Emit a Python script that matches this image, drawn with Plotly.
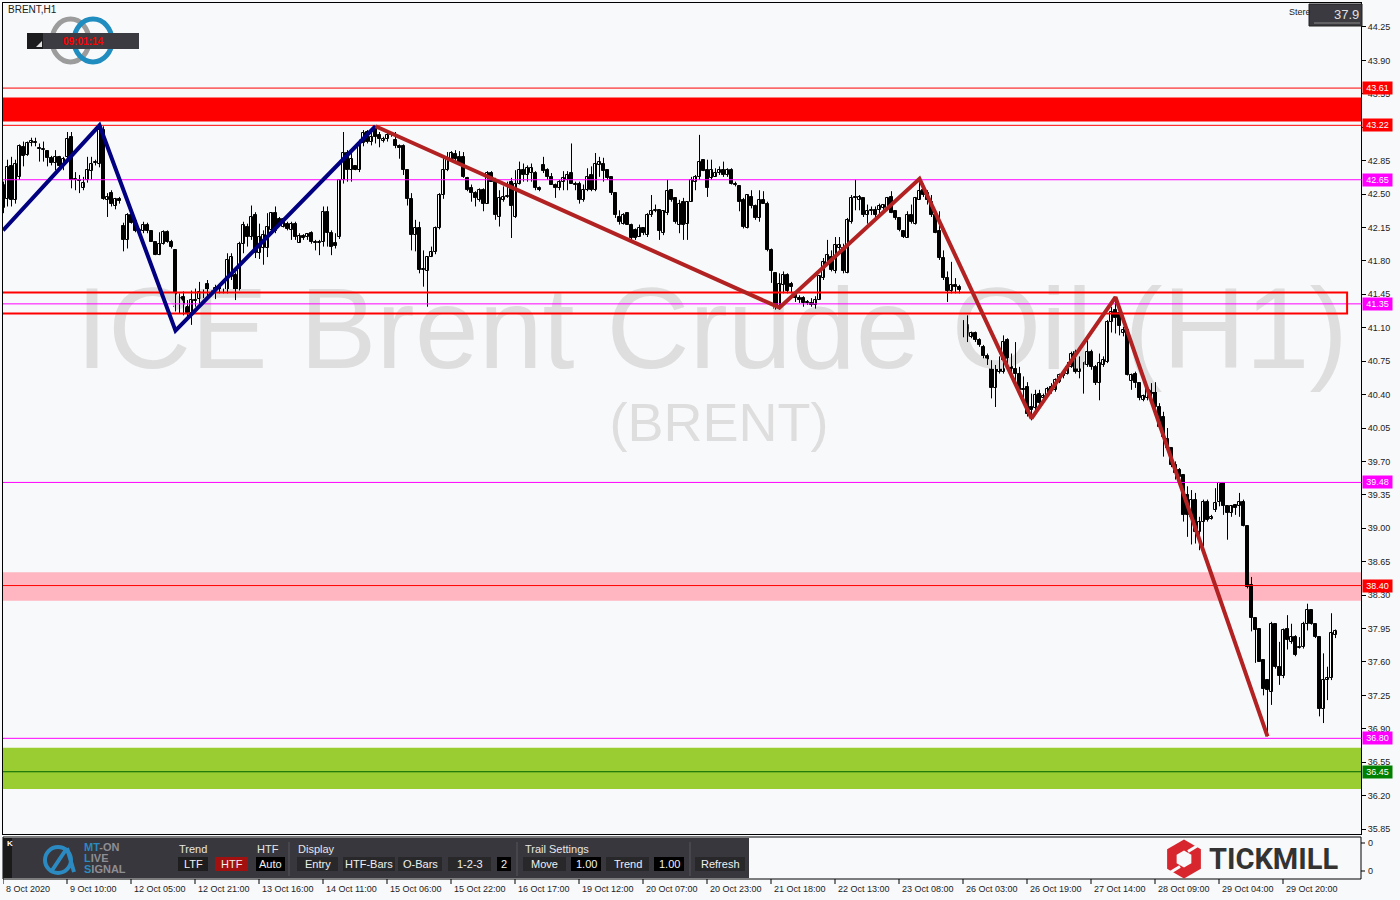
import math
import plotly.graph_objects as go

# ---------------- DATA ----------------
open_ = [42.35,42.45,42.79,42.44,42.68,42.99,42.91,43.04,43.05,42.98,42.96,42.95,42.88,42.83,42.89,42.79,42.89,43.10,42.65,42.65,
         42.56,42.65,42.74,42.83,42.82,43.17,42.44,42.51,42.37,42.45,42.17,42.02,42.28,42.22,42.10,42.11,42.18,42.11,42.00,41.86,
         41.98,42.10,42.00,41.91,41.32,41.42,41.32,41.25,41.39,41.40,41.47,41.56,41.46,41.45,41.48,41.49,41.46,41.63,41.65,41.49,
         41.98,42.16,42.05,42.28,41.88,41.93,41.93,42.12,42.30,42.24,42.16,42.19,42.12,42.19,41.99,42.06,42.05,42.09,42.00,41.99,
         42.00,42.31,42.09,41.99,42.05,42.65,42.93,42.75,42.79,42.75,43.03,43.15,43.05,43.19,43.12,43.06,43.08,43.13,43.07,43.00,
         43.00,42.75,42.45,42.07,42.14,41.70,41.69,41.84,41.89,42.14,42.49,42.75,
         42.86,42.92,42.89,42.89,42.67,42.56,42.51,42.44,42.54,42.40,42.72,42.63,42.26,42.44,42.47,42.63,42.26,42.61,42.75,42.70,
         42.72,42.72,42.56,42.80,42.75,42.68,42.60,42.56,42.63,42.65,42.72,42.61,42.61,42.44,42.54,42.70,42.54,42.80,42.82,42.75,
         42.68,42.51,42.26,42.19,42.30,42.18,42.12,42.05,42.14,42.07,42.28,42.32,42.33,42.09,42.30,42.54,42.46,42.18,42.42,42.19,
         42.42,42.63,42.68,42.86,42.75,42.67,42.68,42.72,42.75,42.70,42.75,42.61,42.58,42.44,42.14,42.47,42.37,42.25,42.44,42.40,
         41.91,41.67,41.32,41.55,41.65,41.56,41.46,41.41,41.41,41.37,41.36,41.34,41.39,41.62,41.77,41.84,41.69,41.93,41.93,41.67,
         42.21,42.47,42.44,42.46,42.28,42.32,42.33,42.33,42.35,42.35,42.47,42.32,42.25,42.11,
         42.04,42.28,42.19,42.44,42.54,42.51,42.42,42.28,42.11,41.83,41.62,41.48,41.55,41.53,41.02,41.13,41.00,41.04,40.97,40.90,
         40.80,40.74,40.47,40.64,40.64,40.97,40.74,40.67,40.62,40.46,40.48,40.27,40.26,40.41,40.36,40.40,40.48,40.45,40.53,40.59,
         40.62,40.69,40.85,40.64,40.74,40.71,40.85,40.69,40.52,40.71,40.74,41.16,41.29,41.25,41.05,41.08,40.54,40.62,40.52,40.34,
         40.36,40.45,40.47,40.27,40.17,39.94,39.84,39.66,39.61,39.56,39.35,39.12,39.30,38.96,39.07,39.28,39.10,39.19,39.28,39.47,
         39.23,39.16,39.24,39.23,39.28,39.02,38.41,38.06,37.95,37.62,37.41,37.29,38.00,37.55,37.45,37.95,37.81,37.86,37.75,37.76,
         38.00,38.14,38.00,37.86,37.11,37.41,37.43,37.88]
high_ = [42.63,42.86,42.89,42.86,43.02,43.05,43.05,43.09,43.09,43.03,43.05,42.96,42.90,42.96,42.90,42.89,43.15,43.15,42.73,42.70,
         42.68,42.89,42.89,42.86,43.21,43.21,42.51,42.54,42.46,42.47,42.20,42.30,42.30,42.24,42.14,42.21,42.20,42.12,42.00,42.10,
         42.12,42.12,42.02,41.92,41.46,41.48,41.39,41.49,41.51,41.58,41.50,41.60,41.49,41.55,41.56,41.51,41.88,41.88,41.68,42.00,
         42.21,42.19,42.38,42.31,42.19,42.12,42.30,42.31,42.37,42.26,42.25,42.21,42.21,42.21,42.09,42.08,42.09,42.11,42.02,42.02,
         42.37,42.37,42.12,42.09,42.65,43.15,42.96,42.96,42.80,43.07,43.17,43.17,43.14,43.21,43.15,43.10,43.14,43.15,43.15,43.02,
         43.02,42.75,42.51,42.23,42.21,41.91,41.85,41.95,42.16,42.51,42.89,42.94,
         42.95,42.96,42.95,42.94,42.68,42.60,42.53,42.56,42.56,42.74,42.74,42.67,42.54,42.58,42.63,42.67,42.75,42.84,42.82,42.80,
         42.82,42.74,42.58,42.89,42.77,42.72,42.61,42.65,42.74,42.74,43.03,42.63,42.63,42.60,42.77,42.79,42.93,42.89,42.88,42.75,
         42.68,42.51,42.33,42.30,42.30,42.19,42.14,42.18,42.14,42.30,42.49,42.39,42.33,42.33,42.65,42.54,42.46,42.44,42.46,42.42,
         42.68,42.70,43.12,42.86,42.86,42.86,42.77,42.79,42.84,42.77,42.77,42.63,42.58,42.46,42.49,42.54,42.39,42.54,42.53,42.42,
         41.93,41.67,41.67,41.69,41.67,41.58,41.48,41.44,41.43,41.39,41.41,41.43,41.65,41.83,42.02,41.91,42.05,42.05,41.98,42.25,
         42.49,42.65,42.49,42.46,42.39,42.37,42.37,42.40,42.39,42.47,42.53,42.33,42.26,42.12,
         42.32,42.39,42.47,42.66,42.61,42.54,42.49,42.30,42.32,41.91,41.69,41.79,41.62,41.55,41.18,41.23,41.06,41.06,40.99,40.92,
         40.83,40.76,40.71,40.80,41.02,40.99,40.83,40.95,40.69,40.59,40.53,40.41,40.45,40.45,40.41,40.48,40.52,40.57,40.62,40.64,
         40.74,40.85,40.87,40.80,40.74,40.97,40.87,40.71,40.83,40.80,41.18,41.32,41.42,41.30,41.11,41.10,40.62,40.64,40.53,40.40,
         40.50,40.52,40.53,40.31,40.22,40.05,39.84,39.70,39.63,39.56,39.44,39.40,39.37,39.12,39.30,39.30,39.14,39.42,39.47,39.47,
         39.24,39.24,39.24,39.37,39.30,39.02,38.49,38.06,37.95,37.62,37.41,38.02,38.00,37.81,37.95,38.09,38.00,37.88,37.86,38.02,
         38.21,38.14,38.00,37.86,37.69,37.55,38.11,37.94]
low_ = [42.30,42.37,42.37,42.40,42.65,42.79,42.90,43.00,43.00,42.84,42.84,42.79,42.80,42.75,42.76,42.75,42.86,42.56,42.54,42.51,
        42.54,42.62,42.65,42.80,42.78,42.44,42.26,42.37,42.34,42.40,41.90,41.93,42.19,42.10,42.07,42.09,42.09,42.00,41.86,41.86,
        41.97,41.99,41.93,41.27,41.25,41.23,41.22,41.13,41.32,41.32,41.41,41.43,41.43,41.40,41.46,41.46,41.46,41.60,41.39,41.49,
        41.88,41.95,42.02,41.83,41.82,41.76,41.84,42.09,42.09,42.17,42.15,42.12,42.02,42.02,41.99,42.02,42.02,41.98,41.91,41.86,
        41.95,41.95,41.86,41.93,42.03,42.61,42.63,42.63,42.75,42.73,43.00,43.03,43.01,43.03,42.99,43.04,43.05,43.10,42.98,42.87,
        42.70,42.38,41.91,41.90,41.67,41.53,41.32,41.84,41.87,42.13,42.45,42.74,
        42.84,42.82,42.80,42.67,42.53,42.42,42.37,42.42,42.32,42.40,42.63,42.23,42.16,42.42,42.46,42.04,42.25,42.60,42.63,42.63,
        42.63,42.54,42.53,42.72,42.65,42.60,42.46,42.54,42.54,42.54,42.61,42.54,42.40,42.42,42.53,42.53,42.53,42.68,42.63,42.65,
        42.49,42.25,42.18,42.18,42.18,42.02,42.02,42.05,42.07,42.05,42.26,42.31,42.02,42.07,42.28,42.42,42.19,42.09,42.02,42.02,
        42.42,42.54,42.65,42.74,42.47,42.65,42.68,42.70,42.68,42.68,42.60,42.58,42.32,42.14,42.14,42.35,42.23,42.21,42.40,41.90,
        41.57,41.29,41.29,41.46,41.46,41.46,41.37,41.36,41.32,41.34,41.32,41.30,41.39,41.60,41.76,41.69,41.67,41.91,41.67,41.67,
        42.19,42.33,42.33,42.26,42.19,42.28,42.23,42.26,42.32,42.33,42.30,42.23,42.11,42.04,
        42.04,42.19,42.18,42.44,42.47,42.39,42.26,42.09,41.81,41.60,41.37,41.46,41.46,41.46,41.00,40.95,40.99,40.95,40.90,40.78,
        40.71,40.36,40.27,40.62,40.62,40.68,40.59,40.53,40.41,40.34,40.17,40.13,40.20,40.29,40.34,40.38,40.41,40.43,40.52,40.57,
        40.61,40.68,40.62,40.57,40.41,40.69,40.66,40.50,40.34,40.69,40.73,41.05,41.04,41.02,41.01,40.60,40.45,40.47,40.34,40.33,
        40.34,40.36,40.26,40.05,39.75,39.82,39.64,39.51,39.51,39.07,38.91,38.83,38.84,38.77,38.81,39.07,39.09,39.17,39.23,39.14,
        38.88,39.12,39.14,39.12,39.02,38.37,37.92,37.59,37.60,37.25,36.82,37.15,37.53,37.36,37.43,37.73,37.79,37.66,37.74,37.74,
        37.93,37.99,37.85,37.03,36.96,37.20,37.41,37.85]
close_ = [42.60,42.78,42.44,42.82,43.00,42.90,43.03,43.06,43.03,42.97,42.97,42.88,42.83,42.89,42.79,42.87,43.08,42.65,42.65,42.64,
          42.62,42.75,42.82,42.84,43.17,42.45,42.47,42.40,42.45,42.43,42.02,42.28,42.20,42.11,42.12,42.18,42.11,42.00,41.86,41.98,
          42.10,42.00,41.95,41.32,41.41,41.32,41.25,41.39,41.38,41.47,41.45,41.46,41.48,41.52,41.53,41.50,41.81,41.84,41.49,41.98,
          42.18,42.05,42.26,41.88,42.05,42.07,42.16,42.30,42.11,42.18,42.24,42.13,42.19,42.05,42.06,42.04,42.08,42.00,41.99,42.00,
          42.31,42.09,41.95,41.96,42.65,42.93,42.75,42.87,42.75,43.03,43.14,43.05,43.10,43.10,43.08,43.08,43.12,43.12,43.00,42.98,
          42.75,42.45,42.07,42.14,41.70,41.72,41.84,41.89,42.14,42.49,42.75,42.86,
          42.93,42.87,42.80,42.68,42.54,42.51,42.46,42.54,42.40,42.72,42.63,42.28,42.46,42.47,42.48,42.37,42.61,42.75,42.70,42.77,
          42.77,42.56,42.54,42.74,42.68,42.60,42.56,42.63,42.67,42.70,42.61,42.60,42.44,42.54,42.68,42.54,42.82,42.84,42.74,42.67,
          42.51,42.28,42.21,42.28,42.18,42.04,42.04,42.14,42.09,42.28,42.32,42.33,42.11,42.32,42.53,42.44,42.21,42.40,42.18,42.42,
          42.65,42.68,42.84,42.74,42.56,42.75,42.72,42.75,42.70,42.75,42.61,42.60,42.42,42.16,42.49,42.37,42.25,42.44,42.40,41.91,
          41.69,41.30,41.56,41.65,41.48,41.53,41.41,41.39,41.36,41.36,41.34,41.39,41.64,41.79,41.86,41.71,41.97,41.97,41.69,42.23,
          42.46,42.46,42.47,42.28,42.32,42.33,42.28,42.37,42.39,42.46,42.30,42.25,42.12,42.05,
          42.28,42.21,42.46,42.53,42.49,42.44,42.28,42.09,41.83,41.62,41.48,41.55,41.53,41.50,41.11,40.99,41.04,40.97,40.92,40.80,
          40.73,40.47,40.69,40.69,40.95,40.74,40.67,40.62,40.45,40.45,40.20,40.24,40.40,40.31,40.39,40.46,40.45,40.55,40.60,40.62,
          40.69,40.83,40.64,40.76,40.71,40.85,40.69,40.52,40.73,40.76,41.16,41.27,41.20,41.12,41.08,40.60,40.60,40.52,40.36,40.38,
          40.47,40.41,40.27,40.06,39.96,39.84,39.66,39.58,39.54,39.14,39.14,39.30,38.96,39.07,39.28,39.09,39.12,39.26,39.47,39.23,
          39.16,39.23,39.21,39.28,39.02,38.39,38.06,37.93,37.60,37.32,37.31,38.00,37.55,37.45,37.93,37.83,37.86,37.67,37.76,38.00,
          38.14,38.00,37.86,37.11,37.41,37.43,37.90,37.92]

time_labels = ["8 Oct 2020", "9 Oct 10:00", "12 Oct 05:00", "12 Oct 21:00", "13 Oct 16:00", "14 Oct 11:00",
               "15 Oct 06:00", "15 Oct 22:00", "16 Oct 17:00", "19 Oct 12:00", "20 Oct 07:00", "20 Oct 23:00",
               "21 Oct 18:00", "22 Oct 13:00", "23 Oct 08:00", "26 Oct 03:00", "26 Oct 19:00", "27 Oct 14:00",
               "28 Oct 09:00", "29 Oct 04:00", "29 Oct 20:00"]
bars_per_label = 16
price_ticks = [35.85, 36.20, 36.55, 36.90, 37.25, 37.60, 37.95, 38.30, 38.65, 39.00, 39.35, 39.70, 40.05,
               40.40, 40.75, 41.10, 41.45, 41.80, 42.15, 42.50, 42.85, 43.20, 43.55, 43.90, 44.25]

red_levels = [43.61, 43.22, 38.40]
magenta_levels = [42.65, 41.35, 39.48, 36.80]
green_levels = [36.45]
zone_red = (43.26, 43.51)
zone_pink = (38.24, 38.54)
zone_green = (36.27, 36.70)
box_prices = (41.25, 41.47)
box_end_bar = 335.9
zz_blue_x = [-0.125, 24, 43, 93]
zz_blue_y = [42.12, 43.22, 41.07, 43.21]
zz_red_x = [93, 194, 229, 257, 278, 316]
zz_red_y = [43.21, 41.31, 42.66, 40.15, 41.42, 36.82]
last_price_text = "37.9"
clock_text = "09:01:14"

# ---------------- LAYOUT GEOMETRY ----------------
W, H = 1400, 900
L, R, T, B = 3, 1361, 3, 834
PXB = 4.0  # pixels per bar
x_range = [-0.125, -0.125 + (R - L) / PXB]
y_range = [35.798, 44.501]
BG = "#F8F9FB"
FONT = "Liberation Sans, Arial, sans-serif"


def PX(x):
    return (x - L) / (R - L)


def PY(y):
    return (B - y) / (B - T)


n = len(open_)
idx = list(range(n))

fig = go.Figure()

# watermark (behind everything)
fig.add_trace(go.Scatter(x=[177.1], y=[40.98], mode="text", text=["ICE Brent Crude Oil (H1)"],
                         textfont=dict(size=115, color="#DEDEDE", family=FONT),
                         textposition="middle center", hoverinfo="skip", showlegend=False))
fig.add_trace(go.Scatter(x=[178.9], y=[40.06], mode="text", text=["(BRENT)"],
                         textfont=dict(size=54, color="#DEDEDE", family=FONT),
                         textposition="middle center", hoverinfo="skip", showlegend=False))

# wicks
wx, wy = [], []
for i in idx:
    wx += [i, i, None]
    wy += [low_[i], high_[i], None]
fig.add_trace(go.Scatter(x=wx, y=wy, mode="lines", line=dict(color="#000000", width=1),
                         hoverinfo="skip", showlegend=False))

# bodies
base = [min(o, c) for o, c in zip(open_, close_)]
hgt = [max(abs(c - o), 0.008) for o, c in zip(open_, close_)]
cols = ["#FFFFFF" if c >= o else "#000000" for o, c in zip(open_, close_)]
fig.add_trace(go.Bar(x=idx, y=hgt, base=base, width=0.6,
                     marker=dict(color=cols, line=dict(color="#000000", width=1)),
                     hoverinfo="skip", showlegend=False))

# horizontal levels
for p in red_levels:
    fig.add_trace(go.Scatter(x=[-5, 345], y=[p, p], mode="lines", line=dict(color="#FF0000", width=1),
                             hoverinfo="skip", showlegend=False))
for p in magenta_levels:
    fig.add_trace(go.Scatter(x=[-5, 345], y=[p, p], mode="lines", line=dict(color="#FF00FF", width=1),
                             hoverinfo="skip", showlegend=False))
for p in green_levels:
    fig.add_trace(go.Scatter(x=[-5, 345], y=[p, p], mode="lines", line=dict(color="#006400", width=1),
                             hoverinfo="skip", showlegend=False))

# rectangle box
lo, hi = box_prices
fig.add_trace(go.Scatter(x=[-5, box_end_bar, box_end_bar, -5], y=[hi, hi, lo, lo], mode="lines",
                         line=dict(color="#FF0000", width=2), hoverinfo="skip", showlegend=False))

# zigzags
fig.add_trace(go.Scatter(x=zz_blue_x, y=zz_blue_y, mode="lines", line=dict(color="#000080", width=4),
                         hoverinfo="skip", showlegend=False))
fig.add_trace(go.Scatter(x=zz_red_x, y=zz_red_y, mode="lines", line=dict(color="#B22222", width=4),
                         hoverinfo="skip", showlegend=False))

shapes = []
annotations = []

# bands (below traces)
for (a, b), col in [(zone_red, "#FF0000"), (zone_pink, "#FFB6C1"), (zone_green, "#9ACD32")]:
    shapes.append(dict(type="rect", xref="paper", yref="y", x0=0, x1=1, y0=a, y1=b,
                       fillcolor=col, line=dict(width=0), layer="below"))


def rect(x0, y0, x1, y1, fill, line=None, lw=0):
    shapes.append(dict(type="rect", xref="paper", yref="paper", x0=PX(x0), x1=PX(x1), y0=PY(y1), y1=PY(y0),
                       fillcolor=fill, line=dict(color=line or fill, width=lw)))


def seg(x0, y0, x1, y1, color, lw=1):
    shapes.append(dict(type="line", xref="paper", yref="paper", x0=PX(x0), x1=PX(x1), y0=PY(y0), y1=PY(y1),
                       line=dict(color=color, width=lw)))


def text(x, y, s, size=11, color="#222222", anchor="left", family=FONT):
    annotations.append(dict(xref="paper", yref="paper", x=PX(x), y=PY(y), text=s, showarrow=False,
                            xanchor=anchor, yanchor="middle", font=dict(size=size, color=color, family=family)))


# ---- top-left logo & clock ----
shapes.append(dict(type="circle", xref="paper", yref="paper", x0=PX(52), x1=PX(89), y0=PY(62), y1=PY(19),
                   line=dict(color="#9C9C9C", width=5)))
shapes.append(dict(type="circle", xref="paper", yref="paper", x0=PX(74), x1=PX(112), y0=PY(62), y1=PY(19),
                   line=dict(color="#1F8DBF", width=5)))
rect(27, 33, 139, 49, "#3C3B41")
rect(27, 33, 43, 49, "#1C1C1E")
shapes.append(dict(type="path", xref="paper", yref="paper",
                   path="M %f %f L %f %f L %f %f Z" % (PX(36), PY(47), PX(42), PY(47), PX(42), PY(41)),
                   fillcolor="#E0E0E0", line=dict(width=0)))
text(83, 41, "<b>" + clock_text + "</b>", size=10, color="#FF0000", anchor="center")
text(6, 10, "BRENT,H1", size=10, color="#222222")

# ---- top-right price box ----
text(1287, 12, "Stere", size=9, color="#222222")
rect(1309, 4, 1362, 26, "#3A3A40", line="#202020", lw=1)
seg(1314, 23, 1360, 23, "#8A8A8A", 1)
text(1361, 14, last_price_text, size=13, color="#E0E0E0", anchor="right")

# ---- price level labels on the axis ----
for p, col in [(43.61, "#FF0000"), (43.22, "#FF0000"), (42.65, "#FF00FF"), (41.35, "#FF00FF"),
               (39.48, "#FF00FF"), (38.40, "#FF0000"), (36.80, "#FF00FF"), (36.45, "#008000")]:
    annotations.append(dict(xref="paper", yref="y", x=1, xshift=1, y=p, text="%.2f" % p, showarrow=False,
                            xanchor="left", yanchor="middle", bgcolor=col, width=27, height=10, borderpad=1,
                            align="center", font=dict(size=9, color="#FFFFFF", family=FONT)))

# ---- sub window ----
rect(L, 837, R, 879, BG, line="#000000", lw=1)
text(1366, 843, "0", size=9)
text(1366, 871, "0", size=9)
seg(R, 843, R + 4, 843, "#000000")
seg(R, 871, R + 4, 871, "#000000")

# toolbar
rect(L, 838, 749, 878, "#38373D")
rect(L, 838, 12, 878, "#1A1A1A")
text(5, 843, "<b>K</b>", size=8, color="#FFFFFF")
shapes.append(dict(type="circle", xref="paper", yref="paper", x0=PX(45), x1=PX(71), y0=PY(873), y1=PY(847),
                   line=dict(color="#2B8AC1", width=4)))
seg(51, 872, 67, 848, "#2B8AC1", 4)
seg(67, 848, 74, 872, "#2B8AC1", 4)
BL = "#2B8AC1"
GR = "#8E8E94"
text(82, 847, "<b><span style='color:%s'>MT</span>-ON</b>" % BL, size=11, color=GR)
text(82, 858, "<b><span style='color:%s'>L</span>IVE</b>" % BL, size=11, color=GR)
text(82, 869, "<b><span style='color:%s'>S</span>IGNAL</b>" % BL, size=11, color=GR)

text(177, 849, "Trend", size=11, color="#E6E6E6")
text(255, 849, "HTF", size=11, color="#E6E6E6")
text(296, 849, "Display", size=11, color="#E6E6E6")
text(523, 849, "Trail Settings", size=11, color="#E6E6E6")
for sx in (289, 517, 690):
    seg(sx, 842, sx, 876, "#56565C", 1)
buttons = [(178, 208, "LTF", "#1E1E1F"), (215, 248, "HTF", "#A31010"), (256, 285, "Auto", "#000000"),
           (297, 338, "Entry", "#28282B"), (343, 395, "HTF-Bars", "#28282B"), (398, 442, "O-Bars", "#28282B"),
           (448, 491, "1-2-3", "#28282B"), (497, 511, "2", "#000000"), (523, 566, "Move", "#28282B"),
           (571, 601, "1.00", "#000000"), (606, 649, "Trend", "#28282B"), (654, 684, "1.00", "#000000"),
           (695, 745, "Refresh", "#28282B")]
for x0, x1, lab, col in buttons:
    rect(x0, 857, x1, 871, col)
    text((x0 + x1) / 2, 864, lab, size=11, color="#F0F0F0", anchor="center")

# Tickmill logo
cx, cy, Ro, Ri = 1184, 859, 19.5, 8.5


def hexpath(r):
    pts = []
    for k in range(6):
        a = math.radians(90 - 60 * k)
        pts.append((PX(cx + r * math.cos(a)), PY(cy - r * math.sin(a))))
    return "M " + " L ".join("%f %f" % p for p in pts) + " Z"


shapes.append(dict(type="path", xref="paper", yref="paper", path=hexpath(Ro), fillcolor="#D7262E",
                   line=dict(width=0)))
shapes.append(dict(type="path", xref="paper", yref="paper", path=hexpath(Ri), fillcolor=BG,
                   line=dict(width=0)))
seg(cx + 4, cy - 7.5, cx + 13, cy - 13, BG, 3)
seg(cx - 4, cy + 7.5, cx - 13, cy + 13, BG, 3)
text(1207, 859, "<b>TICKMILL</b>", size=29, color="#333333", family="Roboto, Liberation Sans, sans-serif")

# time axis labels + ticks (below sub window)
for k, lab in enumerate(time_labels):
    xb = k * bars_per_label - 0.125
    annotations.append(dict(xref="x", yref="paper", x=xb, xshift=1, y=PY(889), text=lab, showarrow=False,
                            xanchor="left", yanchor="middle", font=dict(size=9, color="#222222", family=FONT)))
    shapes.append(dict(type="line", xref="x", yref="paper", x0=xb, x1=xb, y0=PY(879), y1=PY(884),
                       line=dict(color="#000000", width=1)))

fig.update_layout(
    width=W, height=H,
    margin=dict(l=L, r=W - R, t=T, b=H - B, pad=0),
    paper_bgcolor=BG, plot_bgcolor=BG,
    showlegend=False, hovermode=False,
    shapes=shapes, annotations=annotations,
    xaxis=dict(range=x_range, showgrid=False, zeroline=False, showticklabels=False, ticks="",
               showline=True, linecolor="#000000", linewidth=1, mirror=True, fixedrange=True),
    yaxis=dict(range=y_range, side="right", tickvals=price_ticks, ticktext=["%.2f" % v for v in price_ticks],
               ticks="outside", ticklen=4, tickcolor="#000000", showgrid=False, zeroline=False,
               showline=True, linecolor="#000000", linewidth=1, mirror=True, fixedrange=True,
               tickfont=dict(size=9, color="#222222", family=FONT)),
    bargap=0,
)

fig.write_html("out.html", config={"displayModeBar": False},
               post_script="document.body.style.margin='0px';document.body.style.background='%s';" % BG)
